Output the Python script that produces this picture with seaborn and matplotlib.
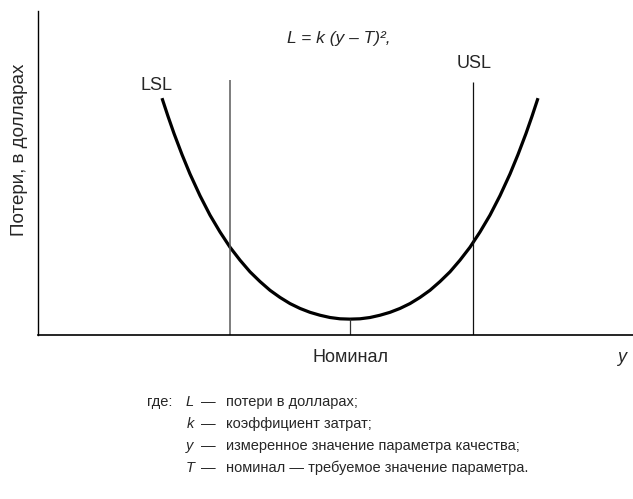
import matplotlib
matplotlib.use("Agg")
import matplotlib.pyplot as plt
from matplotlib import font_manager
import seaborn as sns
import pandas as pd

# Measured quality value and the loss at that value (arbitrary units)
quality = [3, 4.5, 6, 8, 10, 12.5, 15, 17.5, 20, 22.5, 25, 27.5, 30, 32.5, 35, 37.5,
           40, 42.5, 45, 47.5, 50, 52.5, 55, 57.5, 60, 62.5, 65, 67.5, 70, 72.5,
           75, 77.5, 80, 82.5, 85, 87.5, 90, 92, 94, 95.5, 97]
loss = [73.1, 67.5, 62.2, 55.7, 49.7, 43.0, 37.0, 31.8, 27.1, 23.1, 19.5, 16.5, 13.8, 11.6,
        9.7, 8.2, 7.0, 6.1, 5.4, 5.0, 4.9, 5.0, 5.4, 6.1, 7.0, 8.2, 9.7, 11.6, 13.8, 16.5,
        19.5, 23.1, 27.1, 31.8, 37.0, 43.0, 49.7, 55.7, 62.2, 67.5, 73.1]

# Specification limits and target
limit_names = ["LSL", "USL"]
limit_values = [20, 80.75]
limit_heights = [78.7, 78.1]
nominal = 50
nominal_label = "Номинал"

formula = "L = k (y – T)²,"
y_axis_label = "Потери, в долларах"
x_axis_symbol = "y"
legend_intro = "где:"
legend_symbols = ["L", "k", "y", "T"]
legend_texts = ["потери в долларах;",
                "коэффициент затрат;",
                "измеренное значение параметра качества;",
                "номинал — требуемое значение параметра."]

sns.set_style("white")


def pick_family(candidates):
    for name in candidates:
        try:
            font_manager.findfont(name, fallback_to_default=False)
            return name
        except Exception:
            continue
    return "DejaVu Sans"


family = pick_family(["Liberation Sans Narrow", "Liberation Sans", "DejaVu Sans"])
plt.rcParams["font.family"] = [family, "DejaVu Sans"]

W, H = 633, 499
fig = plt.figure(figsize=(W / 100, H / 100), dpi=100)
ax = fig.add_axes([38 / W, 164 / H, 595 / W, 324 / H])

df = pd.DataFrame({"quality": quality, "loss": loss})
sns.lineplot(data=df, x="quality", y="loss", ax=ax, color="black", lw=2.3,
             sort=False, solid_capstyle="butt", solid_joinstyle="round")

# Specification limit lines
ax.vlines(limit_values[0], 0, limit_heights[0], color="#5a5a5a", lw=1.1)
ax.vlines(limit_values[1], 0, limit_heights[1], color="#111111", lw=0.9)

# Short mark from the axis up to the bottom of the curve at the nominal value
ax.vlines(nominal, 0, min(loss), color="#333333", lw=0.9)

ax.set_xlim(-28, 120.75)
ax.set_ylim(0, 100)
ax.set_xticks([])
ax.set_yticks([])
ax.set_xlabel("")
ax.set_ylabel("")
for side in ("top", "right"):
    ax.spines[side].set_visible(False)
ax.spines["left"].set_linewidth(1.0)
ax.spines["bottom"].set_linewidth(1.2)
ax.spines["left"].set_color("black")
ax.spines["bottom"].set_color("black")


def ftext(x, y, s, **kw):
    fig.text(x / W, 1 - y / H, s, **kw)


ftext(20, 150, y_axis_label, rotation=90, ha="center", va="center", fontsize=13.5)
ftext(339, 38, formula, ha="center", va="center", fontsize=12.5, style="italic")
ftext(157, 86, limit_names[0], ha="center", va="center", fontsize=13)
ftext(474, 64, limit_names[1], ha="center", va="center", fontsize=13)
ftext(350, 357, nominal_label, ha="center", va="center", fontsize=13)
ftext(622, 358, x_axis_symbol, ha="center", va="center", fontsize=13, style="italic")

rows_y = [402, 424, 446, 468]
fs = 10.5
ftext(147, rows_y[0], legend_intro, ha="left", va="center", fontsize=fs)
for yy, sym, txt in zip(rows_y, legend_symbols, legend_texts):
    ftext(190, yy, sym, ha="center", va="center", fontsize=fs, style="italic")
    ftext(201, yy, "—", ha="left", va="center", fontsize=fs)
    ftext(226, yy, txt, ha="left", va="center", fontsize=fs)

fig.savefig("out.png", dpi=100, facecolor="white")
